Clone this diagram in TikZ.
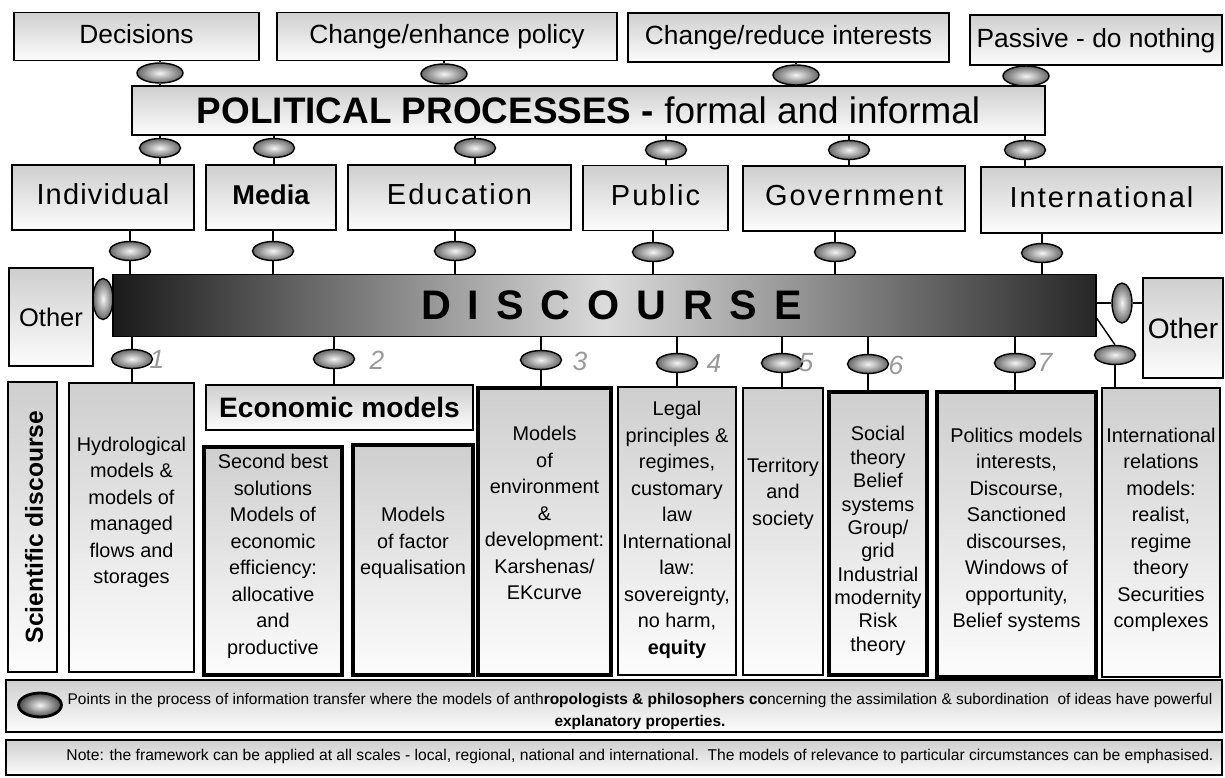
\documentclass[tikz,border=0pt]{standalone}
\usepackage{fontspec}
\setmainfont{Liberation Sans}
\newfontfamily\trackfont[LetterSpace=4]{Liberation Sans}
\newfontfamily\widetrackfont[LetterSpace=7]{Liberation Sans}
\newfontfamily\discfont[LetterSpace=41]{Liberation Sans}
\usetikzlibrary{shapes.geometric}

\begin{document}
\begin{tikzpicture}[x=0.02cm, y=-0.02cm,
    panel/.style={draw, line width=0.9pt, top color=black!19, bottom color=black!1, inner sep=0pt},
    heavypanel/.style={panel, line width=2.6pt},
    blob/.style={ellipse, draw, line width=0.8pt, inner color=black!4, outer color=black!60,
      inner sep=0pt, minimum width=0.82cm, minimum height=0.38cm},
    vblob/.style={blob, minimum width=0.4cm, minimum height=0.82cm},
    link/.style={line width=0.8pt},
    toptext/.style={font=\fontsize{15}{15}\selectfont, text height=11pt, text depth=3pt},
    rowtext/.style={font=\fontsize{16.5}{16.5}\selectfont, text height=12pt, text depth=3.5pt},
    body/.style={align=center, font=\fontsize{11.3}{15.1}\selectfont},
    scrawl/.style={text=black!40, font=\fontsize{15}{15}\selectfont\itshape}]
    \useasboundingbox (0, 0) rectangle (1225, 778);

    \node [panel, toptext, minimum width=4.9cm, minimum height=0.96cm] (dec) at (136.5, 36.5) {Decisions};
    \node [panel, toptext, minimum width=6.8cm, minimum height=0.96cm] (chg) at (447, 36.5) {Change/enhance policy};
    \node [panel, toptext, minimum width=6.42cm, minimum height=0.98cm] (red) at (788.5, 37.5) {Change/reduce interests};
    \node [panel, toptext, minimum width=5.04cm, minimum height=1.0cm] (pas) at (1096, 40) {Passive - do nothing};

    \node [panel, minimum width=18.26cm, minimum height=0.98cm,
      font=\fontsize{21}{21}\selectfont] (pol) at (588.5, 110.5)
      {\textbf{POLITICAL PROCESSES -} formal and informal};

    \node [panel, rowtext, minimum width=3.64cm, minimum height=1.3cm] (ind) at (103, 197.5) {\trackfont Individual};
    \node [panel, rowtext, minimum width=2.6cm, minimum height=1.3cm,
      font=\fontsize{15.5}{15.5}\selectfont\bfseries] (med) at (271, 197.5) {Media};
    \node [panel, rowtext, minimum width=4.46cm, minimum height=1.3cm] (edu) at (459.5, 197.5) {\widetrackfont Education};
    \node [panel, rowtext, minimum width=2.9cm, minimum height=1.3cm] (pub) at (655.5, 198) {\widetrackfont Public};
    \node [panel, rowtext, minimum width=4.44cm, minimum height=1.3cm] (gov) at (854, 198.5) {\widetrackfont Government};
    \node [panel, rowtext, minimum width=4.82cm, minimum height=1.32cm] (int) at (1101.5, 200) {\widetrackfont International};

    \node [draw, line width=0.9pt, left color=black!90, right color=black!85, middle color=black!14,
      minimum width=19.66cm, minimum height=1.24cm] (bar) at (604.5, 305.5) {};
    \node [font=\fontsize{23.5}{23.5}\selectfont\discfont\bfseries] (disc) at (611.5, 305) {DISCOURSE};
    \node [panel, font=\fontsize{14.5}{14.5}\selectfont, minimum width=1.68cm, minimum height=1.96cm] (lother) at (51, 317) {Other};
    \node [panel, font=\fontsize{16}{16}\selectfont, minimum width=1.6cm, minimum height=2.0cm] (rother) at (1183, 328) {Other};

    \node [panel, minimum width=0.98cm, minimum height=5.8cm] (sci) at (32.5, 527) {};
    \node [rotate=90, font=\fontsize{14}{14}\selectfont\bfseries] (scit) at (34, 527) {Scientific discourse};
    \node [panel, minimum width=2.5cm, minimum height=5.78cm] (hyd) at (131.5, 527.5) {};
    \node [body] (hydt) at (131.5, 512.5)
      {Hydrological\\models \&\\models of\\managed\\flows and\\storages};
    \node [panel, minimum width=5.34cm, minimum height=0.9cm,
      font=\fontsize{16}{16}\selectfont\bfseries] (eco) at (339.5, 407.5) {Economic models};
    \node [heavypanel, minimum width=2.76cm, minimum height=4.56cm] (sec) at (273, 561) {};
    \node [body] (sect) at (273, 556.5)
      {Second best\\solutions\\Models of\\economic\\efficiency:\\allocative\\and\\productive};
    \node [heavypanel, minimum width=2.4cm, minimum height=4.6cm] (fac) at (413, 560) {};
    \node [body] (fact) at (413, 543) {Models\\of factor\\equalisation};
    \node [heavypanel, minimum width=2.66cm, minimum height=5.74cm] (env) at (544.5, 531.5) {};
    \node [body] (envt) at (544.5, 513)
      {Models\\of\\environment\\\&\\development:\\Karshenas/\\EKcurve};
    \node [panel, minimum width=2.36cm, minimum height=5.76cm] (leg) at (677, 531) {};
    \node [body] (legt) at (677, 530)
      {Legal\\principles \&\\regimes,\\customary\\law\\International\\law:\\sovereignty,\\no harm,\\\textbf{equity}};
    \node [panel, minimum width=1.6cm, minimum height=5.74cm] (ter) at (783, 531.5) {};
    \node [body] (tert) at (783, 493.5) {Territory\\and\\society};
    \node [heavypanel, minimum width=1.96cm, minimum height=5.66cm] (soc) at (878, 533.5) {};
    \node [body, font=\fontsize{11.3}{13.3}\selectfont] (soct) at (878, 541)
      {Social\\theory\\Belief\\systems\\Group/\\grid\\Industrial\\modernity\\Risk\\theory};
    \node [heavypanel, minimum width=3.18cm, minimum height=5.7cm] (pmod) at (1016.5, 534.5) {};
    \node [body] (pmodt) at (1016.5, 530)
      {Politics models\\interests,\\Discourse,\\Sanctioned\\discourses,\\Windows of\\opportunity,\\Belief systems};
    \node [panel, minimum width=2.36cm, minimum height=5.78cm] (irm) at (1161, 532.5) {};
    \node [body] (irmt) at (1161, 530)
      {International\\relations\\models:\\realist,\\regime\\theory\\Securities\\complexes};

    \node [panel, line width=1.4pt, minimum width=24.32cm, minimum height=1.04cm] (key) at (614, 706) {};
    \node [blob, line width=1.6pt, outer color=black!72, minimum width=0.86cm, minimum height=0.48cm] (keyblob) at (40, 705) {};
    \node [align=center, font=\fontsize{8.8}{13}\selectfont] (keyt) at (640, 711.5)
      {Points in the process of information transfer where the models of anth\textbf{ropologists \& philosophers co}ncerning the assimilation \& subordination\ \ of ideas have powerful\\\textbf{explanatory properties.}};
    \node [panel, line width=1.4pt, minimum width=24.32cm, minimum height=0.7cm] (note) at (614, 757.5) {};
    \node [font=\fontsize{8.9}{10}\selectfont] (notet) at (640, 756)
      {Note: the framework can be applied at all scales - local, regional, national and international.\ \ The models of relevance to particular circumstances can be emphasised.};

    \node [blob, minimum width=0.92cm, minimum height=0.4cm] (a1) at (160, 73) {};
    \node [blob, minimum width=0.92cm, minimum height=0.4cm] (a2) at (444, 74) {};
    \node [blob, minimum width=0.92cm, minimum height=0.4cm] (a3) at (796, 75) {};
    \node [blob, minimum width=0.92cm, minimum height=0.4cm] (a4) at (1026, 76) {};

    \node [blob] (b1) at (160, 148) {};
    \node [blob] (b2) at (274, 148) {};
    \node [blob] (b3) at (475, 148) {};
    \node [blob] (b4) at (666, 150) {};
    \node [blob] (b5) at (849, 150) {};
    \node [blob] (b6) at (1025, 150) {};

    \node [blob] (c1) at (130, 251) {};
    \node [blob] (c2) at (273, 251) {};
    \node [blob] (c3) at (455, 251) {};
    \node [blob] (c4) at (653, 252) {};
    \node [blob] (c5) at (835, 252) {};
    \node [blob] (c6) at (1042, 253) {};

    \node [vblob] (lv) at (103, 299) {};
    \node [vblob, minimum height=0.8cm] (rv) at (1122, 303) {};

    \node [blob] (d1) at (132, 359) {};
    \node [blob] (d2) at (334, 359) {};
    \node [blob] (d3) at (541, 360) {};
    \node [blob] (d4) at (677, 363) {};
    \node [blob] (d5) at (782, 363) {};
    \node [blob] (d6) at (868, 364) {};
    \node [blob] (d7) at (1015, 363) {};
    \node [blob] (d8) at (1115, 355) {};

    \node [scrawl] (n1) at (157, 359) {1};
    \node [scrawl] (n2) at (377, 360) {2};
    \node [scrawl] (n3) at (580, 361) {3};
    \node [scrawl] (n4) at (714, 363) {4};
    \node [scrawl] (n5) at (806, 363) {5};
    \node [scrawl] (n6) at (896, 365) {6};
    \node [scrawl] (n7) at (1045, 362) {7};

    \draw [link] (a1.north) -- (a1.north |- dec.south);
    \draw [link] (a1.south) -- (a1.south |- pol.north);
    \draw [link] (a2.north) -- (a2.north |- chg.south);
    \draw [link] (a2.south) -- (a2.south |- pol.north);
    \draw [link] (a3.north) -- (a3.north |- red.south);
    \draw [link] (a3.south) -- (a3.south |- pol.north);
    \draw [link] (a4.north) -- (a4.north |- pas.south);
    \draw [link] (a4.south) -- (a4.south |- pol.north);

    \draw [link] (b1.north) -- (b1.north |- pol.south);
    \draw [link] (b1.south) -- (b1.south |- ind.north);
    \draw [link] (b2.north) -- (b2.north |- pol.south);
    \draw [link] (b2.south) -- (b2.south |- med.north);
    \draw [link] (b3.north) -- (b3.north |- pol.south);
    \draw [link] (b3.south) -- (b3.south |- edu.north);
    \draw [link] (b4.north) -- (b4.north |- pol.south);
    \draw [link] (b4.south) -- (b4.south |- pub.north);
    \draw [link] (b5.north) -- (b5.north |- pol.south);
    \draw [link] (b5.south) -- (b5.south |- gov.north);
    \draw [link] (b6.north) -- (b6.north |- pol.south);
    \draw [link] (b6.south) -- (b6.south |- int.north);

    \draw [link] (c1.north) -- (c1.north |- ind.south);
    \draw [link] (c1.south) -- (c1.south |- bar.north);
    \draw [link] (c2.north) -- (c2.north |- med.south);
    \draw [link] (c2.south) -- (c2.south |- bar.north);
    \draw [link] (c3.north) -- (c3.north |- edu.south);
    \draw [link] (c3.south) -- (c3.south |- bar.north);
    \draw [link] (c4.north) -- (c4.north |- pub.south);
    \draw [link] (c4.south) -- (c4.south |- bar.north);
    \draw [link] (c5.north) -- (c5.north |- gov.south);
    \draw [link] (c5.south) -- (c5.south |- bar.north);
    \draw [link] (c6.north) -- (c6.north |- int.south);
    \draw [link] (c6.south) -- (c6.south |- bar.north);

    \draw [link] (lv.west) -- (lv.west -| lother.east);
    \draw [link] (lv.east) -- (lv.east -| bar.west);
    \draw [link] (rv.west) -- (rv.west -| bar.east);
    \draw [link] (rv.east) -- (rv.east -| rother.west);

    \draw [link] (d1.north) -- (d1.north |- bar.south);
    \draw [link] (d1.south) -- (d1.south |- hyd.north);
    \draw [link] (d2.north) -- (d2.north |- bar.south);
    \draw [link] (d2.south) -- (d2.south |- eco.north);
    \draw [link] (d3.north) -- (d3.north |- bar.south);
    \draw [link] (d3.south) -- (d3.south |- env.north);
    \draw [link] (d4.north) -- (d4.north |- bar.south);
    \draw [link] (d4.south) -- (d4.south |- leg.north);
    \draw [link] (d5.north) -- (d5.north |- bar.south);
    \draw [link] (d5.south) -- (d5.south |- ter.north);
    \draw [link] (d6.north) -- (d6.north |- bar.south);
    \draw [link] (d6.south) -- (d6.south |- soc.north);
    \draw [link] (d7.north) -- (d7.north |- bar.south);
    \draw [link] (d7.south) -- (d7.south |- pmod.north);
    \draw [link] ([yshift=0.38cm]bar.south east) -- (d8.north);
    \draw [link] (d8.south) -- (d8.south |- irm.north);
  \end{tikzpicture}
\end{document}
